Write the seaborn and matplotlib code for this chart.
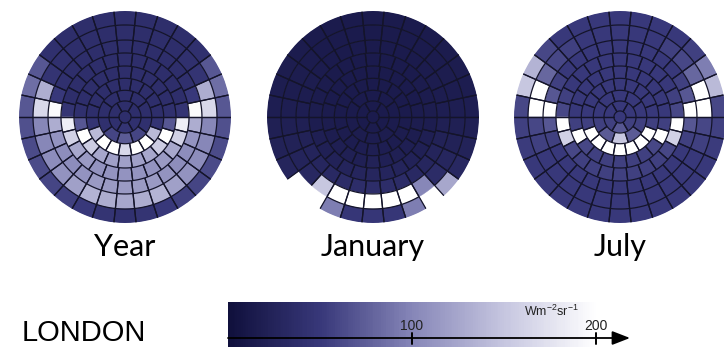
import numpy as np
import matplotlib
matplotlib.use("Agg")
import matplotlib.pyplot as plt
from matplotlib.collections import LineCollection
import seaborn as sns

# Sky subdivision: zenith cap plus eight rings, counted from the zenith outwards
ring_edges = [0.0, 0.057, 0.151, 0.252, 0.365, 0.481, 0.604, 0.726, 0.868, 1.0]
ring_counts = [1, 6, 10, 18, 22, 26, 30, 30, 30]

nan = np.nan

# Sky radiance (W m-2 sr-1) per patch; each ring starts at north and runs anticlockwise
year_radiance = [
    [38],
    [38, 38, 40, 45, 40, 38],
    [38, 38, 38, 40, 58, 72, 58, 40, 38, 38],
    [38, 38, 38, 38, 38, 45, 140, 200, 200, 165, 200, 200, 140, 45, 38, 38, 38, 38],
    [38, 38, 38, 38, 38, 40, 70, 200, 155, 125, 120, 120, 120, 125, 155, 200, 70, 40,
     38, 38, 38, 38],
    [38, 38, 38, 38, 38, 38, 45, 185, 160, 125, 115, 110, 110, 110, 110, 110, 115, 125,
     160, 185, 45, 38, 38, 38, 38, 38],
    [38, 38, 38, 38, 38, 40, 50, 195, 130, 110, 105, 105, 110, 115, 115, 115, 115, 115,
     110, 105, 105, 110, 130, 195, 50, 40, 38, 38, 38, 38],
    [38, 38, 38, 38, 40, 45, 130, 165, 100, 100, 105, 110, 120, 135, 130, 125, 130, 135,
     120, 110, 105, 100, 100, 165, 130, 45, 40, 38, 38, 38],
    [38, 38, 38, 38, 40, 70, 85, 70, 65, 62, 62, 58, 55, 50, 45, 42, 45, 50, 55, 58, 62,
     62, 65, 70, 85, 70, 40, 38, 38, 38],
]

january_radiance = [
    [14],
    [14, 14, 14, 15, 14, 14],
    [14, 14, 14, 15, 16, 17, 16, 15, 14, 14],
    [14, 14, 14, 14, 14, 15, 16, 17, 18, 19, 18, 17, 16, 15, 14, 14, 14, 14],
    [14, 14, 14, 14, 14, 15, 16, 17, 19, 20, 21, 22, 21, 20, 19, 17, 16, 15, 14, 14,
     14, 14],
    [14, 14, 14, 14, 15, 15, 16, 17, 19, 21, 23, 25, 27, 28, 27, 25, 23, 21, 19, 17, 16,
     15, 15, 14, 14, 14],
    [14, 14, 14, 14, 15, 16, 17, 18, 20, 22, 25, 28, 32, 35, 36, 36, 36, 35, 32, 28, 25,
     22, 20, 18, 17, 16, 15, 14, 14, 14],
    [14, 14, 14, 14, 15, 16, 17, 18, 20, 22, 25, 30, 150, 205, 210, 210, 210, 205, 100,
     35, 28, 22, 20, 18, 17, 16, 15, 14, 14, 14],
    [14, 14, 14, 14, 15, 16, 17, 18, 20, 22, 26, nan, nan, 95, 48, 48, 48, 95, nan, 125,
     30, 24, 20, 18, 17, 16, 15, 14, 14, 14],
]

july_radiance = [
    [50],
    [50, 50, 55, 70, 55, 50],
    [50, 50, 50, 55, 72, 150, 72, 55, 50, 50],
    [50, 50, 50, 50, 50, 55, 200, 200, 200, 205, 200, 200, 200, 55, 50, 50, 50, 50],
    [50, 50, 50, 50, 50, 50, 55, 200, 60, 55, 55, 55, 55, 55, 60, 200, 55, 50, 50, 50,
     50, 50],
    [50, 50, 50, 50, 50, 55, 60, 200, 160, 60, 55, 55, 55, 55, 55, 55, 55, 60, 160, 200,
     60, 55, 50, 50, 50, 50],
    [50, 50, 50, 50, 50, 55, 70, 200, 70, 55, 50, 50, 50, 50, 50, 50, 50, 50, 50, 50, 50,
     55, 70, 200, 70, 55, 50, 50, 50, 50],
    [50, 50, 50, 55, 60, 80, 200, 200, 60, 55, 50, 50, 50, 50, 50, 50, 50, 50, 50, 50, 50,
     55, 60, 200, 200, 80, 60, 55, 50, 50],
    [50, 50, 50, 50, 60, 135, 150, 60, 55, 52, 50, 50, 50, 50, 50, 50, 50, 50, 50, 50, 50,
     52, 55, 60, 140, 95, 55, 50, 50, 50],
]

panel_titles = ["Year", "January", "July"]
site_name = "LONDON"
scale_max = 200
scale_ticks = [100, 200]
scale_unit = r"Wm$^{\mathregular{-2}}$sr$^{\mathregular{-1}}$"

sns.set_theme(style="white")
plt.rcParams["font.family"] = ["Lato", "DejaVu Sans"]

cmap = sns.blend_palette(["#10103c", "#38387a", "#8686b8", "#c6c6e0", "#ffffff"],
                         as_cmap=True)
norm = plt.Normalize(0, scale_max)

W, H = 724, 350
fig = plt.figure(figsize=(W / 100, H / 100), dpi=100)
fig.patch.set_facecolor("white")


def draw_dome(ax, rings):
    segments = []
    for k, (vals, n) in enumerate(zip(rings, ring_counts)):
        r0, r1 = ring_edges[k], ring_edges[k + 1]
        width = 2 * np.pi / n
        theta = np.deg2rad(90 + np.arange(n) * 360.0 / n)
        vals = np.asarray(vals, dtype=float)
        keep = ~np.isnan(vals)
        colors = cmap(norm(vals[keep]))
        ax.bar(theta[keep], r1 - r0, width=width, bottom=r0, color=colors,
               edgecolor=colors, linewidth=0.3, align="center")
        if n == 1:
            continue
        for t in theta[keep]:
            arc = np.linspace(t - width / 2, t + width / 2, 16)
            segments.append(np.column_stack([arc, np.full_like(arc, r0)]))
            segments.append([(t - width / 2, r0), (t - width / 2, r1)])
            segments.append([(t + width / 2, r0), (t + width / 2, r1)])
    ax.add_collection(LineCollection(segments, colors="#14142a", linewidths=0.9))
    ax.set_ylim(0, 1)
    ax.axis("off")


centers_x = [125, 373, 620]
center_y, radius = 117, 106
for cx, rings, title in zip(centers_x, [year_radiance, january_radiance, july_radiance],
                            panel_titles):
    ax = fig.add_axes([(cx - radius) / W, 1 - (center_y + radius) / H,
                       2 * radius / W, 2 * radius / H], projection="polar")
    draw_dome(ax, rings)
    fig.text(cx / W, 1 - 256 / H, title, ha="center", va="baseline", fontsize=22,
             color="black")

fig.text(22 / W, 1 - 341 / H, site_name, ha="left", va="baseline", fontsize=21,
         family=["Liberation Sans Narrow", "Liberation Sans"], color="black")

# Colour scale with an arrowed value axis
x0, x1 = 228, 630
cax = fig.add_axes([x0 / W, 1 - 347 / H, (x1 - x0) / W, 45 / H])
levels = np.arange(0, scale_max + 1)
sns.heatmap(levels[np.newaxis, :], cmap=cmap, vmin=0, vmax=scale_max, cbar=False,
            xticklabels=False, yticklabels=False, linewidths=0, ax=cax)
x_max = (x1 - x0) / ((596 - x0) / scale_max)
cax.set_xlim(0, x_max)
cax.set_ylim(0, 1)
cax.axis("off")
cax.annotate("", xy=(x_max, 0.2), xytext=(0, 0.2),
             arrowprops=dict(arrowstyle="-|>,head_length=0.9,head_width=0.35",
                             color="black", lw=1.3, shrinkA=0, shrinkB=0),
             annotation_clip=False)
for t in scale_ticks:
    cax.plot([t, t], [0.07, 0.32], color="black", lw=1.4)
    cax.text(t, 0.47, str(t), ha="center", va="center", fontsize=10,
             family=["Liberation Sans", "DejaVu Sans"], color="#222222")
cax.text(176, 0.8, scale_unit, ha="center", va="center", fontsize=9,
         family=["Liberation Sans", "DejaVu Sans"], color="#222222")

fig.savefig("out.png", dpi=100, facecolor="white")
